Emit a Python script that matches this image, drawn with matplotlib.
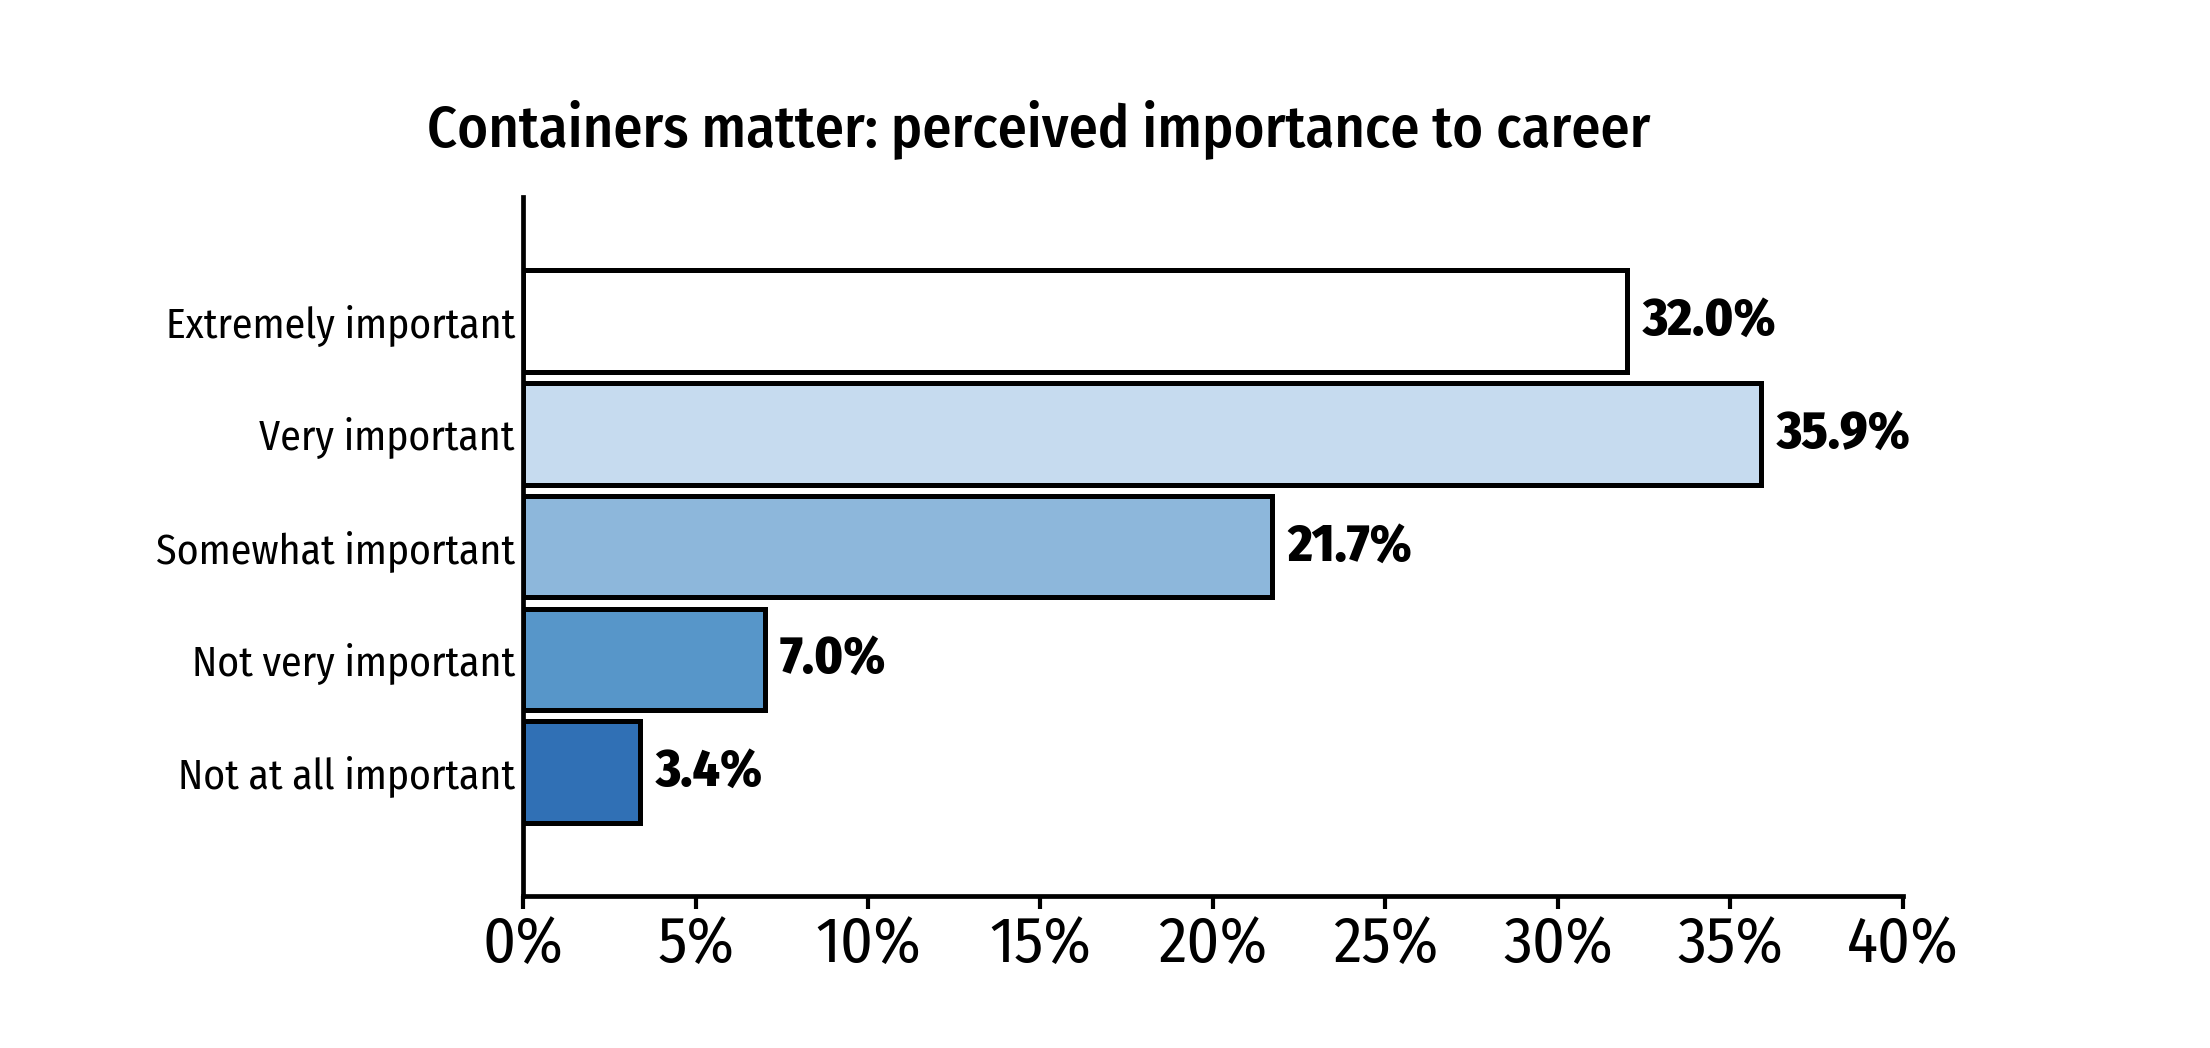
import matplotlib
matplotlib.use("Agg")
import matplotlib.pyplot as plt

plt.rcParams['font.family'] = ['Fira Sans Condensed', 'Roboto Condensed',
                               'Barlow Semi Condensed', 'DejaVu Sans']

# data
categories = ["Extremely important", "Very important", "Somewhat important",
              "Not very important", "Not at all important"]
values = [32.0, 35.9, 21.7, 7.0, 3.4]
colors = ["#ffffff", "#c6dbef", "#8db7db", "#5796c9", "#3070b5"]
xticks = [0, 5, 10, 15, 20, 25, 30, 35, 40]

fig = plt.figure(figsize=(22.1, 10.48), dpi=100)
ax = fig.add_axes([0.2367, 0.145, 0.861 - 0.2367, 0.812 - 0.145])

pos = list(range(len(categories)))
ax.barh(pos, values, height=0.9, color=colors, edgecolor="black", linewidth=3.6)

for p, v in zip(pos, values):
    ax.text(v + 0.45, p, "%.1f%%" % v, va="center", ha="left",
            fontsize=38, fontweight="heavy")

ax.set_yticks(pos)
ax.set_yticklabels(categories, fontsize=30)
ax.tick_params(axis="y", length=0, pad=6)
ax.set_xticks(xticks)
ax.set_xticklabels(["%d%%" % t for t in xticks], fontsize=46)
ax.tick_params(axis="x", length=9, width=3, direction="out", pad=4)
ax.set_xlim(0, 40)
ax.set_ylim(5.1, -1.1)

for s in ["top", "right"]:
    ax.spines[s].set_visible(False)
for s in ["left", "bottom"]:
    ax.spines[s].set_linewidth(3.4)

fig.suptitle("Containers matter: perceived importance to career",
             x=0.47, y=0.905, va="top", fontsize=42, fontweight="medium")

fig.savefig("out.png", dpi=100)
